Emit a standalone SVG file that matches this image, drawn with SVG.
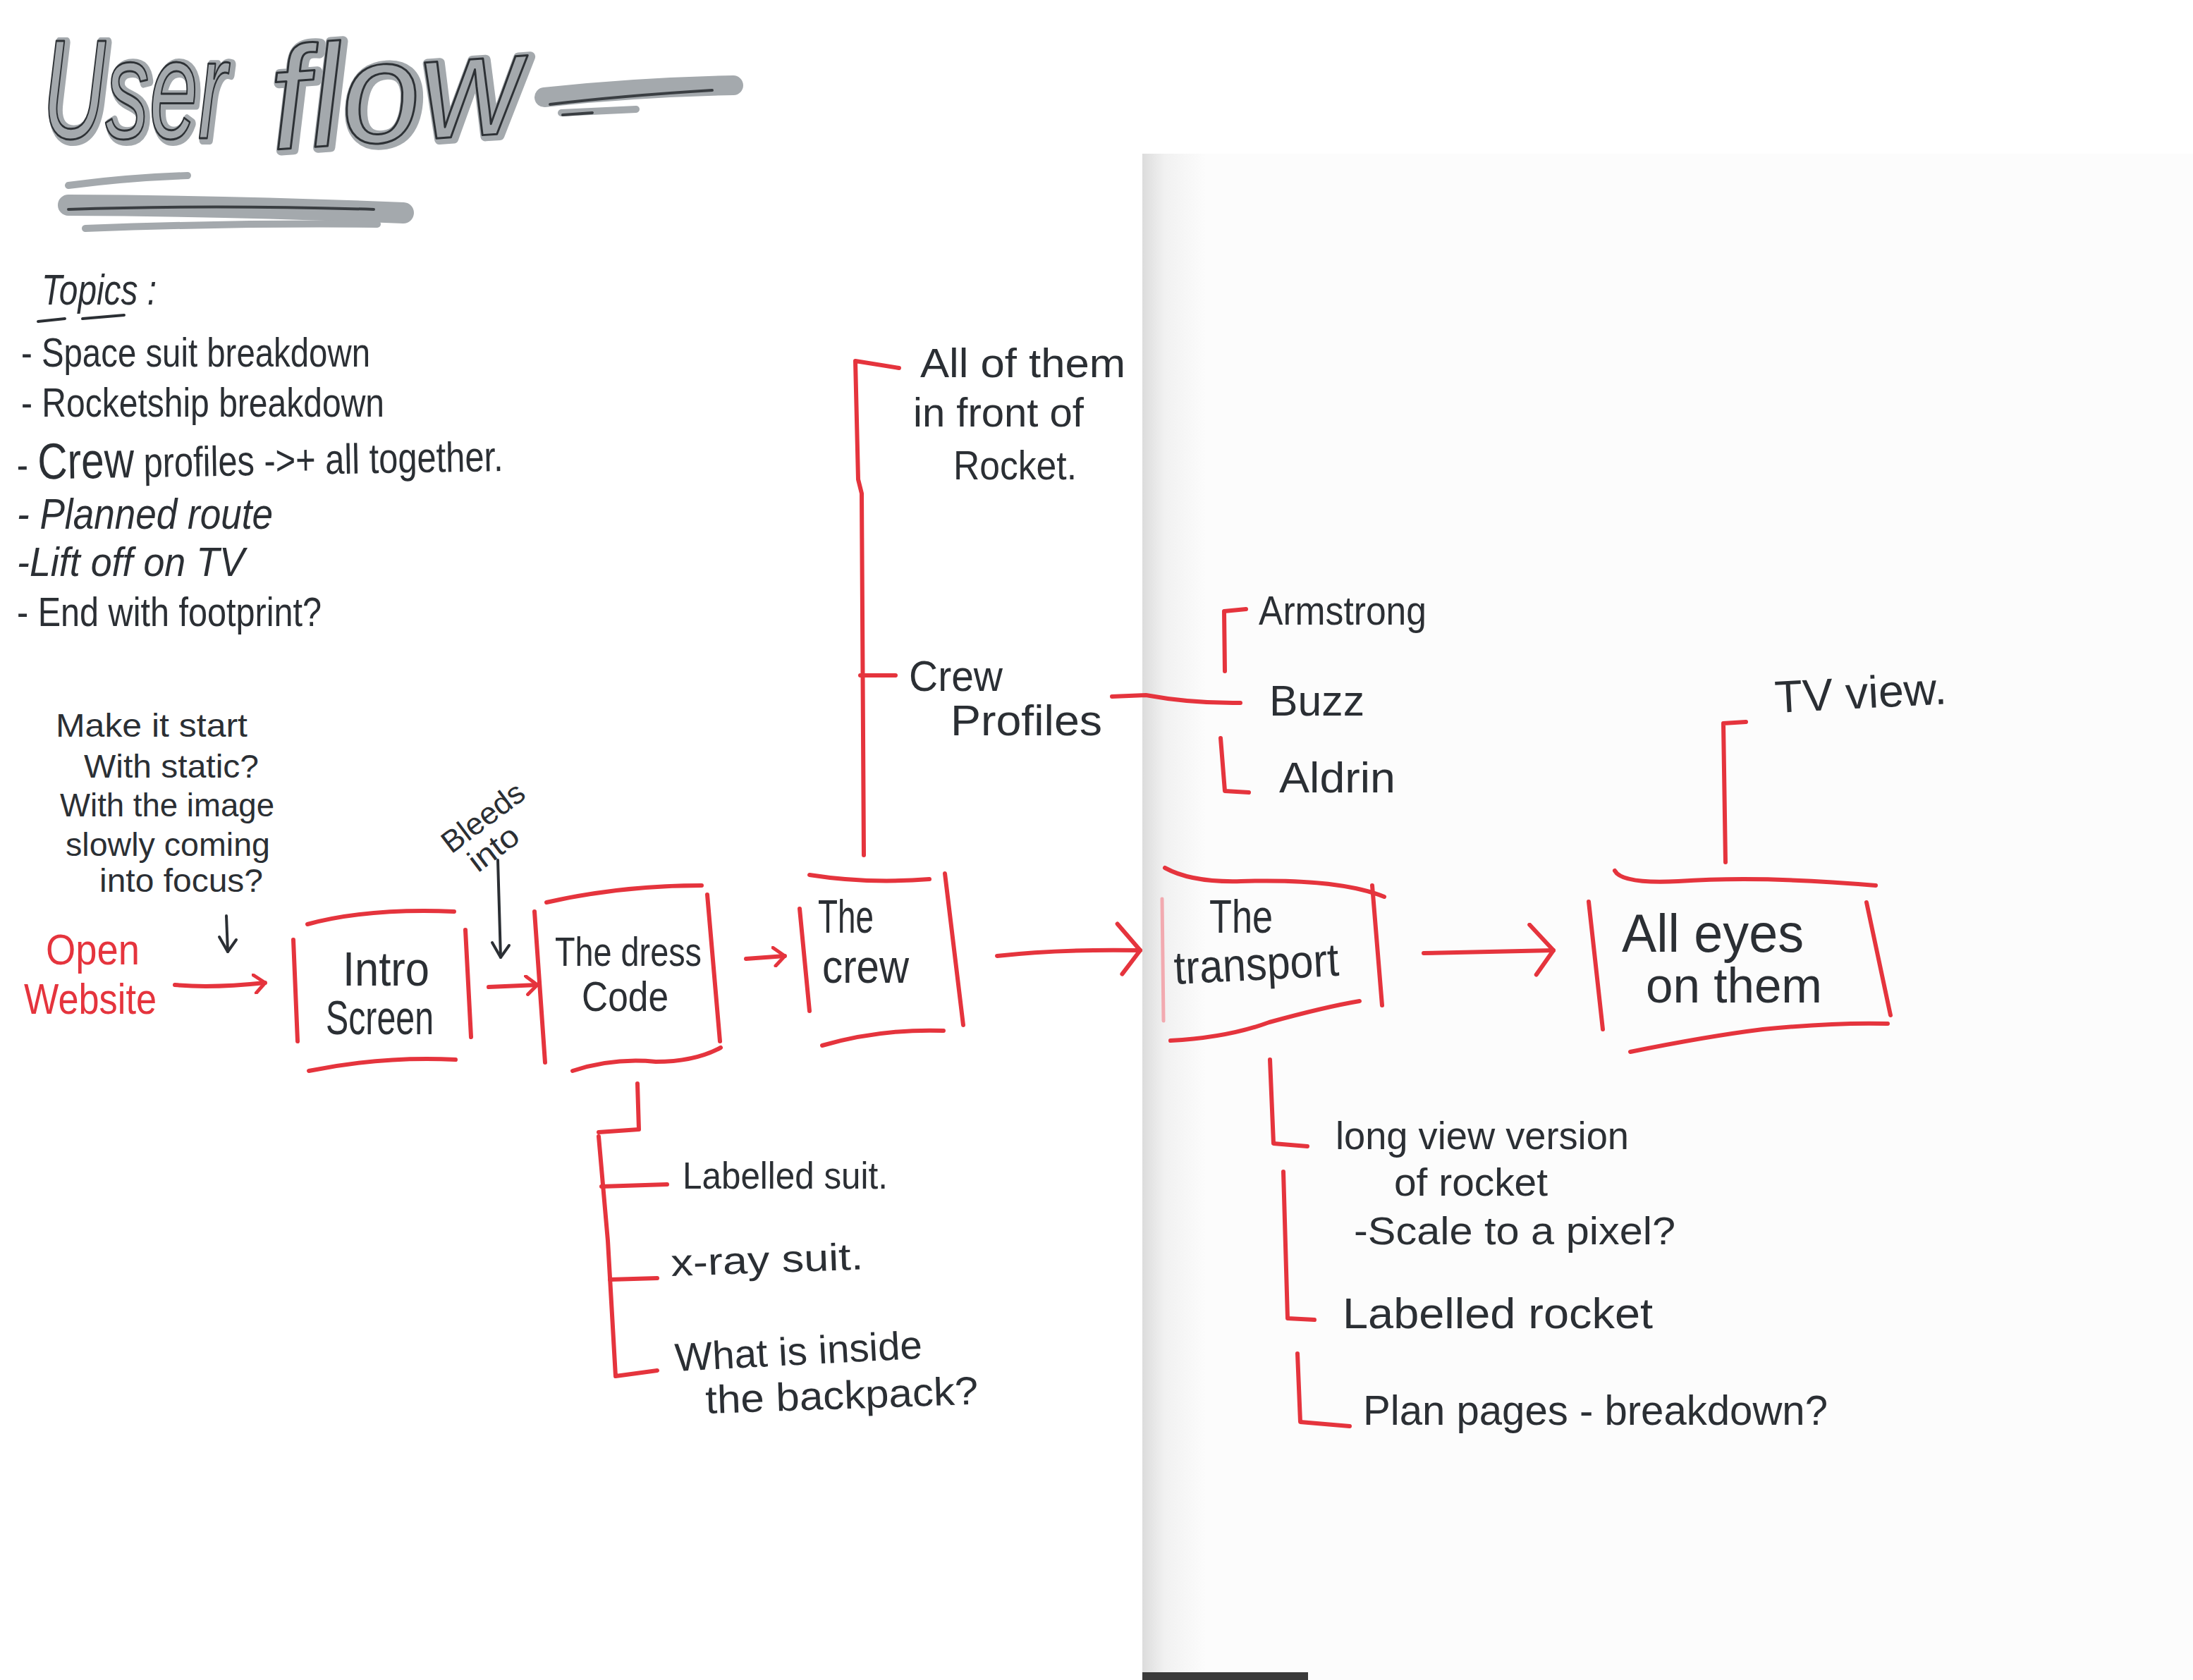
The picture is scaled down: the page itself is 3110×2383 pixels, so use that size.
<svg xmlns="http://www.w3.org/2000/svg" width="3110" height="2383" viewBox="0 0 3110 2383">
<defs>
  <linearGradient id="sheetShade" x1="0" y1="0" x2="1" y2="0">
    <stop offset="0" stop-color="#dcdcdc"/>
    <stop offset="0.35" stop-color="#f1f1f1"/>
    <stop offset="1" stop-color="#fcfcfc"/>
  </linearGradient>
  <marker id="headRed" viewBox="0 0 20 30" refX="18" refY="15" markerWidth="20" markerHeight="30" markerUnits="userSpaceOnUse" orient="auto">
    <path d="M2,2 L18,15 L4,28" fill="none" stroke="#e5343d" stroke-width="5" stroke-linecap="round" stroke-linejoin="round"/>
  </marker>
  <marker id="headRedLg" viewBox="0 0 40 80" refX="37" refY="40" markerWidth="40" markerHeight="80" markerUnits="userSpaceOnUse" orient="auto">
    <path d="M4,3 L37,40 L12,74" fill="none" stroke="#e5343d" stroke-width="6" stroke-linecap="round" stroke-linejoin="round"/>
  </marker>
  <marker id="headInk" viewBox="0 0 30 30" refX="15" refY="27" markerWidth="30" markerHeight="30" markerUnits="userSpaceOnUse" orient="0">
    <path d="M3,6 L15,27 L27,10" fill="none" stroke="#2b2f34" stroke-width="4" stroke-linecap="round" stroke-linejoin="round"/>
  </marker>
</defs>
<style>
  .ink { font-family: "Liberation Sans", Arial, sans-serif; fill: #2b2f34; }
  .redtxt { font-family: "Liberation Sans", Arial, sans-serif; fill: #e5343d; }
  .red { fill: none; stroke: #e5343d; stroke-width: 6; stroke-linecap: round; stroke-linejoin: round; }
  .pink { fill: none; stroke: #f2aab0; stroke-width: 5; stroke-linecap: round; }
  .pen { fill: none; stroke: #2b2f34; stroke-width: 4; stroke-linecap: round; stroke-linejoin: round; }
  .marker { fill: none; stroke: #a4a9ad; stroke-linecap: round; }
  .markerCore { fill: none; stroke: #3a3e42; stroke-width: 4; stroke-linecap: round; }
  .titleBg { font-family: "Liberation Sans", Arial, sans-serif; font-style: italic; fill: #a4a9ad; stroke: #a4a9ad; stroke-width: 14; stroke-linejoin: round; }
  .titleFg { font-family: "Liberation Sans", Arial, sans-serif; font-style: italic; fill: none; stroke: #2d3135; stroke-width: 3; stroke-linejoin: round; }
</style>

<rect x="0" y="0" width="3110" height="2383" fill="#ffffff"/>
<!-- second sheet of paper -->
<rect x="1620" y="218" width="1490" height="2165" fill="#fcfcfc"/>
<rect x="1620" y="218" width="90" height="2165" fill="url(#sheetShade)"/>
<rect x="1620" y="2372" width="235" height="11" fill="#3a3a3a"/>

<!-- Title -->
<g id="title">
  <text class="titleBg" x="64" y="198" font-size="200" textLength="262" lengthAdjust="spacingAndGlyphs">User</text>
  <text class="titleFg" x="60" y="196" font-size="200" textLength="262" lengthAdjust="spacingAndGlyphs">User</text>
  <text class="titleBg" x="392" y="214" font-size="205" textLength="358" lengthAdjust="spacingAndGlyphs" transform="rotate(-4 392 214)">flow</text>
  <text class="titleFg" x="388" y="212" font-size="205" textLength="358" lengthAdjust="spacingAndGlyphs" transform="rotate(-4 392 214)">flow</text>
  <path class="marker" stroke-width="28" d="M772,138 Q900,124 1040,121"/>
  <path class="markerCore" d="M780,148 Q880,136 1010,128"/>
  <path class="marker" stroke-width="10" d="M796,160 L902,155"/>
  <path class="markerCore" d="M798,163 L840,160"/>
  <path class="marker" stroke-width="10" d="M97,263 Q180,252 266,249"/>
  <path class="marker" stroke-width="30" d="M97,291 Q330,292 572,302"/>
  <path class="markerCore" d="M97,297 Q300,290 530,297"/>
  <path class="marker" stroke-width="10" d="M121,324 Q330,316 535,318"/>
</g>

<!-- Topics list -->
<g id="topics">
  <text class="ink" x="59" y="432" font-size="62" textLength="163" lengthAdjust="spacingAndGlyphs" font-style="italic">Topics :</text>
  <path class="pen" d="M54,456 L92,452 M117,452 L176,447"/>
  <text class="ink" x="30" y="520" font-size="58" textLength="495" lengthAdjust="spacingAndGlyphs">- Space suit breakdown</text>
  <text class="ink" x="30" y="591" font-size="58" textLength="515" lengthAdjust="spacingAndGlyphs">- Rocketship breakdown</text>
  <text class="ink" x="24" y="680" font-size="60" textLength="690" lengthAdjust="spacingAndGlyphs" transform="rotate(-1 24 680)">- <tspan font-size="72">Crew</tspan>  profiles -&gt;+ all together.</text>
  <text class="ink" x="24" y="750" font-size="62" textLength="363" lengthAdjust="spacingAndGlyphs" font-style="italic">- Planned route</text>
  <text class="ink" x="24" y="817" font-size="58" textLength="323" lengthAdjust="spacingAndGlyphs" font-style="italic">-Lift off on TV</text>
  <text class="ink" x="24" y="888" font-size="58" textLength="432" lengthAdjust="spacingAndGlyphs">- End with footprint?</text>
</g>

<!-- Note about the intro -->
<g id="note-intro">
  <text class="ink" x="79" y="1045" font-size="46" textLength="272" lengthAdjust="spacingAndGlyphs">Make it start</text>
  <text class="ink" x="119" y="1103" font-size="46" textLength="248" lengthAdjust="spacingAndGlyphs">With static?</text>
  <text class="ink" x="85" y="1158" font-size="46" textLength="304" lengthAdjust="spacingAndGlyphs">With the image</text>
  <text class="ink" x="93" y="1214" font-size="46" textLength="290" lengthAdjust="spacingAndGlyphs">slowly coming</text>
  <text class="ink" x="141" y="1265" font-size="46" textLength="232" lengthAdjust="spacingAndGlyphs">into focus?</text>
</g>

<g id="note-bleeds">
  <g transform="translate(640,1212) rotate(-37)">
    <text class="ink" x="0" y="0" font-size="44" textLength="135" lengthAdjust="spacingAndGlyphs">Bleeds</text>
    <text class="ink" x="14" y="44" font-size="44" textLength="78" lengthAdjust="spacingAndGlyphs">into</text>
  </g>
</g>

<!-- Nodes -->
<g id="node-open">
  <text class="redtxt" x="65" y="1368" font-size="62" textLength="133" lengthAdjust="spacingAndGlyphs">Open</text>
  <text class="redtxt" x="34" y="1438" font-size="62" textLength="188" lengthAdjust="spacingAndGlyphs">Website</text>
</g>

<g id="node-intro">
  <path class="red" d="M436,1311 Q520,1288 644,1293"/>
  <path class="red" d="M416,1333 L422,1477"/>
  <path class="red" d="M660,1319 L668,1471"/>
  <path class="red" d="M438,1519 Q540,1498 646,1503"/>
  <text class="ink" x="486" y="1398" font-size="68" textLength="123" lengthAdjust="spacingAndGlyphs">Intro</text>
  <text class="ink" x="462" y="1467" font-size="68" textLength="153" lengthAdjust="spacingAndGlyphs">Screen</text>
</g>

<g id="node-dress">
  <path class="red" d="M775,1280 Q880,1256 995,1256"/>
  <path class="red" d="M758,1293 L773,1507"/>
  <path class="red" d="M1003,1269 L1021,1477"/>
  <path class="red" d="M812,1519 Q870,1500 930,1506 Q985,1506 1022,1486"/>
  <text class="ink" x="787" y="1370" font-size="58" textLength="208" lengthAdjust="spacingAndGlyphs">The dress</text>
  <text class="ink" x="825" y="1434" font-size="60" textLength="123" lengthAdjust="spacingAndGlyphs">Code</text>
</g>

<g id="node-crew">
  <path class="red" d="M1148,1241 Q1230,1254 1318,1247"/>
  <path class="red" d="M1134,1289 L1148,1434"/>
  <path class="red" d="M1340,1239 L1366,1454"/>
  <path class="red" d="M1166,1483 Q1250,1459 1338,1462"/>
  <text class="ink" x="1160" y="1323" font-size="66" textLength="79" lengthAdjust="spacingAndGlyphs">The</text>
  <text class="ink" x="1166" y="1394" font-size="66" textLength="123" lengthAdjust="spacingAndGlyphs">crew</text>
</g>

<g id="node-transport">
  <path class="red" d="M1652,1231 Q1690,1252 1760,1250 Q1900,1246 1963,1272"/>
  <path class="pink" d="M1648,1275 L1650,1448"/>
  <path class="red" d="M1946,1256 L1960,1426"/>
  <path class="red" d="M1660,1476 Q1740,1472 1800,1450 Q1880,1428 1928,1420"/>
  <text class="ink" x="1715" y="1323" font-size="66" textLength="90" lengthAdjust="spacingAndGlyphs">The</text>
  <text class="ink" x="1666" y="1396" font-size="66" textLength="234" lengthAdjust="spacingAndGlyphs" transform="rotate(-3 1666 1396)">transport</text>
</g>

<g id="node-alleyes">
  <path class="red" d="M2290,1235 Q2300,1254 2380,1250 Q2500,1242 2660,1256"/>
  <path class="red" d="M2253,1279 L2273,1460"/>
  <path class="red" d="M2647,1280 L2681,1440"/>
  <path class="red" d="M2312,1492 Q2420,1470 2500,1460 Q2600,1450 2677,1452"/>
  <text class="ink" x="2300" y="1350" font-size="76" textLength="258" lengthAdjust="spacingAndGlyphs">All eyes</text>
  <text class="ink" x="2334" y="1422" font-size="70" textLength="250" lengthAdjust="spacingAndGlyphs">on them</text>
</g>

<!-- Branch labels -->
<g id="label-allofthem">
  <text class="ink" x="1305" y="535" font-size="58" textLength="291" lengthAdjust="spacingAndGlyphs">All of them</text>
  <text class="ink" x="1295" y="605" font-size="58" textLength="242" lengthAdjust="spacingAndGlyphs">in front of</text>
  <text class="ink" x="1352" y="680" font-size="58" textLength="175" lengthAdjust="spacingAndGlyphs">Rocket.</text>
</g>
<g id="label-crewprofiles">
  <text class="ink" x="1289" y="980" font-size="62" textLength="133" lengthAdjust="spacingAndGlyphs">Crew</text>
  <text class="ink" x="1348" y="1043" font-size="62" textLength="215" lengthAdjust="spacingAndGlyphs">Profiles</text>
</g>
<g id="label-armstrong">
  <text class="ink" x="1785" y="886" font-size="58" textLength="238" lengthAdjust="spacingAndGlyphs">Armstrong</text>
</g>
<g id="label-buzz">
  <text class="ink" x="1800" y="1015" font-size="62" textLength="135" lengthAdjust="spacingAndGlyphs">Buzz</text>
</g>
<g id="label-aldrin">
  <text class="ink" x="1814" y="1124" font-size="62" textLength="165" lengthAdjust="spacingAndGlyphs">Aldrin</text>
</g>
<g id="label-tvview">
  <text class="ink" x="2518" y="1011" font-size="64" textLength="244" lengthAdjust="spacingAndGlyphs" transform="rotate(-3 2518 1011)">TV view.</text>
</g>
<g id="label-labelledsuit">
  <text class="ink" x="968" y="1686" font-size="54" textLength="291" lengthAdjust="spacingAndGlyphs">Labelled suit.</text>
</g>
<g id="label-xraysuit">
  <text class="ink" x="952" y="1810" font-size="54" textLength="273" lengthAdjust="spacingAndGlyphs" transform="rotate(-2 952 1810)">x-ray suit.</text>
</g>
<g id="label-backpack">
  <text class="ink" x="958" y="1945" font-size="56" textLength="351" lengthAdjust="spacingAndGlyphs" transform="rotate(-3 958 1945)">What is inside</text>
  <text class="ink" x="1001" y="2005" font-size="56" textLength="387" lengthAdjust="spacingAndGlyphs" transform="rotate(-2 1001 2005)">the backpack?</text>
</g>
<g id="label-longview">
  <text class="ink" x="1894" y="1630" font-size="56" textLength="416" lengthAdjust="spacingAndGlyphs">long view version</text>
  <text class="ink" x="1977" y="1696" font-size="56" textLength="218" lengthAdjust="spacingAndGlyphs">of rocket</text>
  <text class="ink" x="1920" y="1765" font-size="56" textLength="456" lengthAdjust="spacingAndGlyphs">-Scale to a pixel?</text>
</g>
<g id="label-labelledrocket">
  <text class="ink" x="1904" y="1884" font-size="62" textLength="440" lengthAdjust="spacingAndGlyphs">Labelled rocket</text>
</g>
<g id="label-planpages">
  <text class="ink" x="1933" y="2021" font-size="60" textLength="659" lengthAdjust="spacingAndGlyphs">Plan pages - breakdown?</text>
</g>

<!-- Connectors -->
<g id="connectors">
  <path class="red" marker-end="url(#headRed)" d="M248,1397 Q300,1402 376,1394"/>
  <path class="red" marker-end="url(#headRed)" d="M693,1400 L762,1397"/>
  <path class="red" marker-end="url(#headRed)" d="M1058,1360 L1113,1356"/>
  <path class="red" marker-end="url(#headRedLg)" d="M1414,1356 Q1500,1346 1617,1348"/>
  <path class="red" marker-end="url(#headRedLg)" d="M2019,1352 L2203,1348"/>

  <path class="pen" marker-end="url(#headInk)" d="M321,1299 L323,1350"/>
  <path class="pen" marker-end="url(#headInk)" d="M706,1220 L710,1358"/>

  <path class="red" d="M1225,1213 L1222,700 L1217,680 L1213,512 L1275,522"/>
  <path class="red" d="M1220,958 L1270,958"/>

  <path class="red" d="M1577,988 L1625,986 Q1690,998 1759,997"/>
  <path class="red" d="M1737,952 L1736,867 L1767,864"/>
  <path class="red" d="M1731,1047 L1737,1122 L1771,1124"/>

  <path class="red" d="M2447,1223 L2444,1026 L2476,1024"/>

  <path class="red" d="M904,1537 L906,1602 L849,1606"/>
  <path class="red" d="M849,1612 L862,1760 L873,1952 L932,1944"/>
  <path class="red" d="M853,1683 L946,1680"/>
  <path class="red" d="M865,1815 L932,1813"/>

  <path class="red" d="M1801,1503 L1806,1622 L1854,1626"/>
  <path class="red" d="M1820,1662 L1826,1870 L1864,1872"/>
  <path class="red" d="M1840,1920 L1844,2017 L1914,2023"/>
</g>
</svg>
